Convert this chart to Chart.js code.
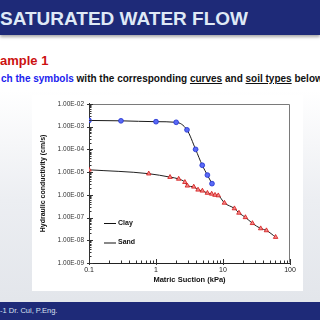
<!DOCTYPE html>
<html><head><meta charset="utf-8">
<script src="https://cdn.jsdelivr.net/npm/chart.js@4.4.1/dist/chart.umd.min.js"></script>
<style>
html,body{margin:0;padding:0;}
body{width:320px;height:320px;overflow:hidden;position:relative;font-family:"Liberation Sans",Arial,sans-serif;
 background:linear-gradient(#ffffff 0px,#ffffff 90px,#eceef2 200px,#e3e6eb 300px);}
#hdr{position:absolute;left:0;top:0;width:320px;height:35px;background:#1e2a78;box-shadow:0 2px 3px rgba(0,0,0,0.35);}
#ttl{position:absolute;left:0;top:8px;font-weight:bold;font-size:19px;line-height:22px;color:#dfe9f6;white-space:nowrap;}
#ex{position:absolute;left:0;top:53px;font-weight:bold;font-size:13px;line-height:16px;color:#cc1111;white-space:nowrap;}
#ins{position:absolute;left:1px;top:73px;font-weight:bold;font-size:10px;line-height:12px;color:#111;white-space:nowrap;}
#ins .b{color:#1a22ee;}
#ins u{text-decoration:underline;}
#panel{position:absolute;left:32px;top:95px;width:271px;height:196px;background:#fff;}
#foot{position:absolute;left:0;top:302px;width:320px;height:18px;background:#1e2a78;}
#ftxt{position:absolute;left:0;top:306px;font-size:7.5px;line-height:10px;color:#d8e0f0;white-space:nowrap;}
canvas{position:absolute;left:32px;top:95px;}
.lg{position:absolute;font-weight:bold;font-size:7px;line-height:8px;color:#111;white-space:nowrap;}
.ll{position:absolute;}
</style></head><body>
<div id="hdr"></div>
<div id="ttl">SATURATED WATER FLOW</div>
<div id="ex">ample 1</div>
<div id="ins"><span class="b">ch the symbols</span> with the corresponding <u>curves</u> and <u>soil types</u> below</div>
<div id="panel"></div>
<canvas id="c" width="271" height="196"></canvas>
<div class="ll" style="left:104px;top:223px;width:12px;height:1.2px;background:#111;"></div>
<div class="lg" style="left:118px;top:219px;">Clay</div>
<div class="ll" style="left:104px;top:241.5px;width:12px;height:2px;background:#888;"></div>
<div class="lg" style="left:118px;top:238px;">Sand</div>
<div id="foot"></div>
<div id="ftxt">-1 Dr. Cui, P.Eng.</div>
<script>
const clayX = [0.1, 0.3, 1, 2, 2.9, 3.9, 4.9, 5.85, 6.85];
const clayY = [1.87e-3, 1.8e-3, 1.65e-3, 1.55e-3, 7.2e-4, 1e-4, 2e-5, 7.4e-6, 3.1e-6];
const sandX = [0.1, 0.78, 1.62, 2.18, 2.7, 2.94, 3.66, 4.24, 4.92, 5.85, 6.78, 7.6, 8.5, 10.5, 14.8, 17.3, 21.6, 27.5, 36.5, 44.5, 61];
const sandY = [1.26e-5, 8.5e-6, 6e-6, 5e-6, 3.6e-6, 2.5e-6, 2.25e-6, 1.66e-6, 1.5e-6, 1.2e-6, 1.1e-6, 9.8e-7, 9.3e-7, 4.4e-7, 2.5e-7, 1.6e-7, 1.02e-7, 5.6e-8, 3.3e-8, 2.7e-8, 1.38e-8];
const xTickValues = [0.1, 1, 10, 100];
const xTickLabels = ['0.1', '1', '10', '100'];
const yTickValues = [1e-9, 1e-8, 1e-7, 1e-6, 1e-5, 1e-4, 1e-3, 1e-2];
const yTickLabels = ['1.00E-09', '1.00E-08', '1.00E-07', '1.00E-06', '1.00E-05', '1.00E-04', '1.00E-03', '1.00E-02'];

const toPts = (xs, ys) => xs.map((x, i) => ({x: x, y: ys[i]}));

const framePlugin = {
  id: 'frame',
  afterDatasetsDraw(chart) {
    const ctx = chart.ctx, a = chart.chartArea, xs = chart.scales.x, ys = chart.scales.y;
    ctx.save();
    ctx.lineWidth = 1;
    ctx.strokeStyle = '#7a7a7a';
    ctx.beginPath();
    ctx.moveTo(Math.round(a.left) + 0.5, Math.round(a.top) + 0.5);
    ctx.lineTo(Math.round(a.right) - 0.5, Math.round(a.top) + 0.5);
    ctx.lineTo(Math.round(a.right) - 0.5, Math.round(a.bottom) - 0.5);
    ctx.stroke();
    ctx.strokeStyle = '#333';
    ctx.beginPath();
    for (let k = 0; k < yTickValues.length; k++) {
      const base = yTickValues[k];
      const py = Math.round(ys.getPixelForValue(base)) + 0.5;
      ctx.moveTo(a.left - 2, py); ctx.lineTo(a.left + 4, py);
      if (k < yTickValues.length - 1) {
        for (let j = 2; j < 10; j++) {
          const p = Math.round(ys.getPixelForValue(base * j)) + 0.5;
          ctx.moveTo(a.left, p); ctx.lineTo(a.left + 2.5, p);
        }
      }
    }
    for (let k = 0; k < xTickValues.length; k++) {
      const base = xTickValues[k];
      const px = Math.round(xs.getPixelForValue(base)) + 0.5;
      ctx.moveTo(px, a.bottom + 2); ctx.lineTo(px, a.bottom - 4);
      if (k < xTickValues.length - 1) {
        for (let j = 2; j < 10; j++) {
          const p = Math.round(xs.getPixelForValue(base * j)) + 0.5;
          ctx.moveTo(p, a.bottom); ctx.lineTo(p, a.bottom - 2.5);
        }
      }
    }
    ctx.stroke();
    ctx.restore();
  }
};

new Chart(document.getElementById('c'), {
  type: 'line',
  data: {
    datasets: [
      {label: 'Clay', data: toPts(clayX, clayY), borderColor: '#1a1a1a', borderWidth: 1,
       cubicInterpolationMode: 'monotone', pointStyle: 'circle', pointRadius: 2.4,
       pointBackgroundColor: '#5a6af5', pointBorderColor: '#2030d0', pointBorderWidth: 0.8},
      {label: 'Sand', data: toPts(sandX, sandY), borderColor: '#222', borderWidth: 1,
       cubicInterpolationMode: 'monotone', pointStyle: 'triangle', pointRadius: 2.6,
       pointBackgroundColor: '#f28a8a', pointBorderColor: '#d41515', pointBorderWidth: 0.8}
    ]
  },
  options: {
    responsive: false, animation: false, devicePixelRatio: 1,
    layout: {padding: {top: 7, right: 13, left: 0, bottom: 0}},
    plugins: {legend: {display: false}, tooltip: {enabled: false}},
    scales: {
      x: {
        type: 'logarithmic', min: 0.1, max: 100,
        afterBuildTicks: s => { s.ticks = xTickValues.map(v => ({value: v})); },
        afterFit: s => { s.height = 28; },
        ticks: {autoSkip: false, maxRotation: 0, padding: 3, color: '#222',
                font: {family: 'Liberation Sans', size: 7},
                callback: (v, i) => xTickLabels[i]},
        grid: {display: false, drawTicks: false},
        border: {display: true, color: '#222', width: 1},
        title: {display: true, text: 'Matric Suction (kPa)', color: '#111',
                font: {family: 'Liberation Sans', size: 7.5, weight: 'bold'},
                padding: {top: 0, bottom: 6.8}}
      },
      y: {
        type: 'logarithmic', min: 1e-9, max: 1e-2,
        afterBuildTicks: s => { s.ticks = yTickValues.map(v => ({value: v})); },
        afterFit: s => { s.width = 57; },
        ticks: {autoSkip: false, padding: 5, color: '#333',
                font: {family: 'Liberation Sans', size: 6.5},
                callback: (v, i) => yTickLabels[i]},
        grid: {display: false, drawTicks: false},
        border: {display: true, color: '#333', width: 1},
        title: {display: true, text: 'Hydraulic conductivity (cm/s)', color: '#111',
                font: {family: 'Liberation Sans', size: 7, weight: 'bold'},
                padding: {top: 6.8, bottom: 0}}
      }
    }
  },
  plugins: [framePlugin]
});
</script>
</body></html>
